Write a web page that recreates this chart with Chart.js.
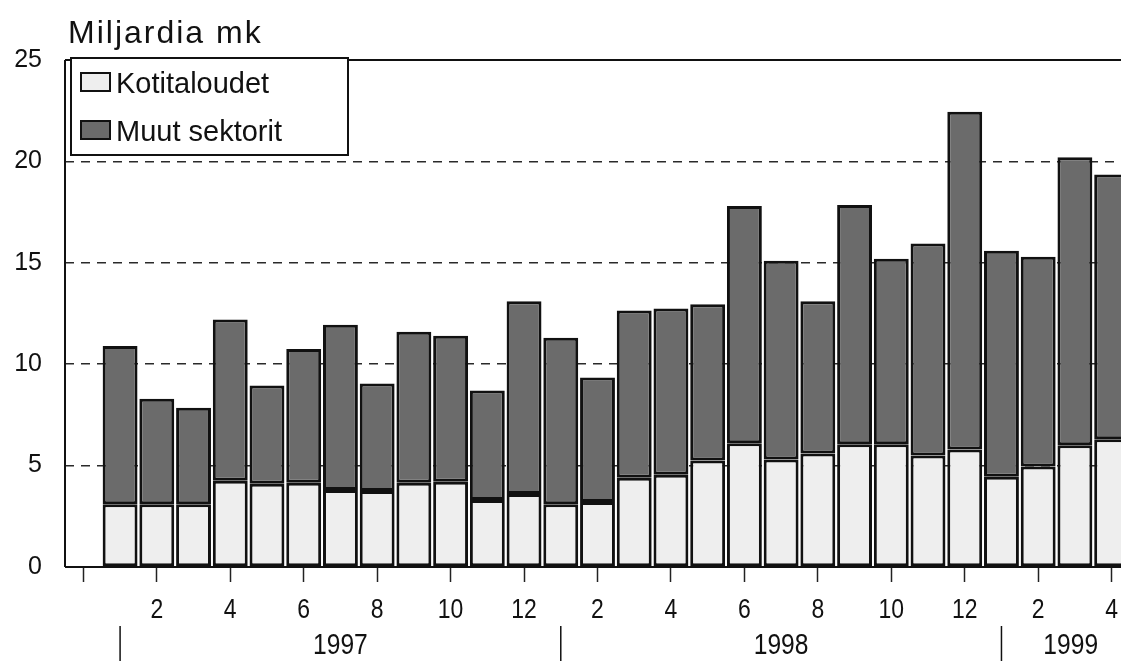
<!DOCTYPE html>
<html>
<head>
<meta charset="utf-8">
<script src="https://cdn.jsdelivr.net/npm/chart.js@4"></script>
<style>
  html, body { margin: 0; padding: 0; background: #fff; overflow: hidden; }
  #wrap { width: 1130px; height: 661px; }
</style>
</head>
<body>
<div id="wrap"><canvas id="myChart" width="1130" height="661"></canvas></div>
<script>
// months shown on the axis (1/1997 .. 4/1999)
const months = ['1','2','3','4','5','6','7','8','9','10','11','12',
                '1','2','3','4','5','6','7','8','9','10','11','12',
                '1','2','3','4'];
const years = ['1997', '1998', '1999'];
const yearStart = [1, 13, 25]; // slot of January of each year
const yTicks = [0, 5, 10, 15, 20, 25];

// billions of marks
const kotitaloudet = [3.1, 3.1, 3.1, 4.25, 4.1, 4.15, 3.8, 3.75, 4.15, 4.2, 3.3, 3.6,
                      3.1, 3.2, 4.4, 4.55, 5.25, 6.1, 5.3, 5.6, 6.05, 6.05, 5.5, 5.8,
                      4.45, 4.95, 6.0, 6.3];
const muutSektorit = [7.8, 5.2, 4.75, 7.95, 4.85, 6.6, 8.15, 5.3, 7.45, 7.2, 5.4, 9.5,
                      8.2, 6.15, 8.25, 8.2, 7.7, 11.7, 9.8, 7.5, 11.8, 9.15, 10.45, 16.65,
                      11.15, 10.35, 14.2, 13.05];

const regular = "'Liberation Sans', Arial, sans-serif";

// empty slot in front of january 1997, like in the original
const labels = [''].concat(months);

// condensed text: no narrow font installed, so squeeze the regular one
function narrowText(ctx, text, x, y, size) {
  ctx.save();
  ctx.font = size + 'px ' + regular;
  ctx.textAlign = 'center';
  ctx.textBaseline = 'middle';
  ctx.translate(x, y);
  ctx.scale(0.82, 1);
  ctx.fillText(text, 0, 0);
  ctx.restore();
}

const framePlugin = {
  id: 'frame',
  afterDraw(chart) {
    const {ctx, chartArea: a, scales: {x}} = chart;
    ctx.save();
    ctx.strokeStyle = '#111';
    ctx.lineWidth = 2;
    ctx.beginPath();
    ctx.moveTo(a.left, a.top); ctx.lineTo(chart.width, a.top);
    ctx.moveTo(a.left, a.top); ctx.lineTo(a.left, a.bottom);
    ctx.moveTo(a.left, a.bottom); ctx.lineTo(chart.width, a.bottom);
    ctx.stroke();

    // month labels under every second tick
    ctx.fillStyle = '#111';
    labels.forEach((m, i) => {
      if (i > 0 && i % 2 === 0) narrowText(ctx, m, x.getPixelForValue(i), 610, 28);
    });

    // year separators + year labels
    ctx.lineWidth = 1.5;
    years.forEach((yr, i) => {
      const sx = x.getPixelForValue(yearStart[i]);
      ctx.beginPath();
      ctx.moveTo(sx, 626); ctx.lineTo(sx, 661);
      ctx.stroke();
      const ex = i < years.length - 1 ? x.getPixelForValue(yearStart[i + 1]) : a.right + 10;
      narrowText(ctx, yr, (sx + ex) / 2, 646, 30);
    });

    // legend box
    ctx.fillStyle = '#fff';
    ctx.fillRect(71, 58, 277, 97);
    ctx.lineWidth = 2;
    ctx.strokeRect(71, 58, 277, 97);
    ctx.font = '29px ' + regular;
    ctx.textAlign = 'left';
    ctx.textBaseline = 'alphabetic';
    chart.data.datasets.forEach((ds, i) => {
      const top = 73 + i * 48;
      ctx.fillStyle = ds.backgroundColor;
      ctx.fillRect(81, top, 29, 18);
      ctx.strokeRect(81, top, 29, 18);
      ctx.fillStyle = '#111';
      ctx.fillText(ds.label, 116, top + 20);
    });

    // title
    ctx.font = '32px ' + regular;
    ctx.letterSpacing = '2px';
    ctx.fillText('Miljardia mk', 68, 43);
    ctx.restore();
  }
};

function initChart(target) {
  return new Chart(target, {
    type: 'bar',
    data: {
      labels: labels,
      datasets: [{
        label: 'Kotitaloudet',
        data: [null].concat(kotitaloudet),
        backgroundColor: '#eeeeee',
        borderColor: '#111',
        borderWidth: 3,
        borderSkipped: false
      }, {
        label: 'Muut sektorit',
        data: [null].concat(muutSektorit),
        backgroundColor: '#6b6b6b',
        borderColor: '#111',
        borderWidth: 3,
        borderSkipped: false
      }]
    },
    options: {
      responsive: false,
      animation: false,
      events: [],
      layout: { padding: { top: 60, left: 0, right: 0, bottom: 0 } },
      datasets: { bar: { barPercentage: 0.95, categoryPercentage: 1.0 } },
      plugins: { legend: { display: false }, tooltip: { enabled: false } },
      scales: {
        x: {
          stacked: true,
          afterFit: (s) => { s.height = 94; },
          border: { display: false },
          grid: {
            offset: false,
            drawOnChartArea: false,
            drawTicks: true,
            tickLength: 15,
            tickWidth: 1.5,
            tickColor: (c) => (c.index % 2 === 0 ? '#222' : 'rgba(0,0,0,0)')
          },
          ticks: {
            autoSkip: false,
            maxRotation: 0,
            callback: () => ''
          }
        },
        y: {
          stacked: true,
          min: 0,
          max: 25,
          afterFit: (s) => { s.width = 65; },
          afterBuildTicks: (s) => { s.ticks = yTicks.map((v) => ({ value: v })); },
          border: { display: false, dash: [9, 7] },
          grid: {
            drawTicks: false,
            lineWidth: 1.6,
            color: (c) => (c.tick && c.tick.value > 0 && c.tick.value < 25 ? '#2a2a2a' : 'rgba(0,0,0,0)')
          },
          ticks: {
            padding: 23,
            color: '#111',
            font: { family: regular, size: 25 }
          }
        }
      }
    },
    plugins: [framePlugin]
  });
}

document.addEventListener('DOMContentLoaded', () => initChart(document.querySelector('#myChart')));
</script>
</body>
</html>
